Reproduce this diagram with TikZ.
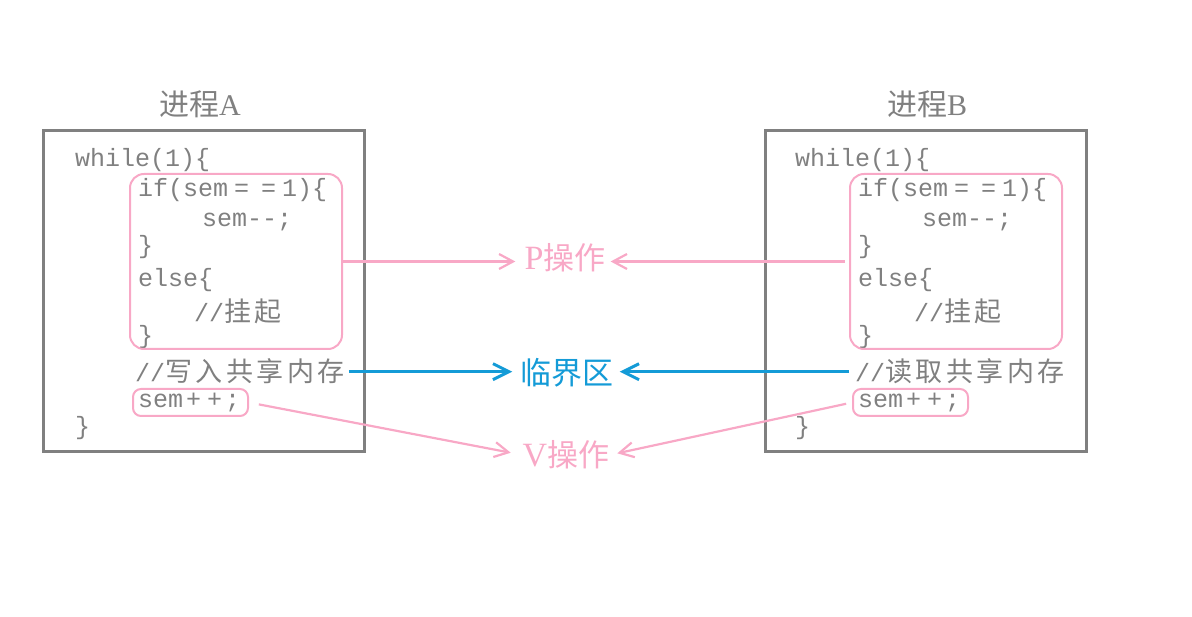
\documentclass[tikz,border=0pt]{standalone}
\usepackage{fontspec}
\setmainfont{Liberation Serif}
\newfontfamily\cjk{Noto Sans CJK SC}
\newfontfamily\cjkcode[LetterSpace=13]{Noto Sans CJK SC}
\newfontfamily\mono{Liberation Mono}
\usetikzlibrary{arrows.meta}
\definecolor{codegray}{RGB}{128,128,128}
\definecolor{pinkc}{RGB}{248,168,198}
\definecolor{bluec}{RGB}{20,155,215}
\newcommand\weq{\makebox[27pt]{=}}
\newcommand\wpl{\makebox[21pt]{+}}
\begin{document}
\begin{tikzpicture}[x=1pt,y=-1pt,
 code/.style={anchor=base west, inner sep=0pt, text=codegray, font=\mono\fontsize{25}{25}\selectfont},
 procbox/.style={draw=codegray, line width=3pt, inner sep=0pt, minimum width=321pt, minimum height=321pt},
 pinkbox/.style={draw=pinkc, line width=2pt, rounded corners=14pt, inner sep=0pt},
 ttl/.style={text=codegray, font=\fontsize{30}{30}\selectfont},
 lab/.style={font=\fontsize{31}{31}\selectfont, inner sep=0pt},
 parrow/.style={draw=pinkc, line width=2.2pt, -{Straight Barb[length=14pt,width=15pt]}},
 barrow/.style={draw=bluec, line width=3pt, -{Straight Barb[length=16pt,width=16pt]}},
]
\useasboundingbox (0,0) rectangle (1192,617);
% process boxes
\node[procbox] (boxA) at (203.5,291.5) {};
\node[procbox] (boxB) at (925.5,291.5) {};
\node[ttl] (tA) at (200,104) {{\cjk 进程}A};
\node[ttl] (tB) at (927,104) {{\cjk 进程}B};
% code
\foreach \s/\dx/\cm in {A/0/写入共享内存, B/720/读取共享内存}{
  \node[code] (wh\s) at (75+\dx,167) {while(1)\{};
  \node[code] (if\s) at (138+\dx,197) {if(sem\weq\weq1)\{};
  \node[code] (dec\s) at (202+\dx,227) {sem--;};
  \node[code] (cb\s) at (138+\dx,254) {\}};
  \node[code] (el\s) at (138+\dx,287) {else\{};
  \node[code] (hang\s) at (194+\dx,322) {//{\cjkcode\fontsize{27}{27}\selectfont 挂起}};
  \node[code] (cc\s) at (138+\dx,344) {\}};
  \node[code] (c\s) at (135+\dx,382) {//{\cjkcode\fontsize{27}{27}\selectfont \cm}};
  \node[code] (inc\s) at (138+\dx,408) {sem\wpl\wpl;};
  \node[code] (end\s) at (75+\dx,435) {\}};
  \node[pinkbox, minimum width=212pt, minimum height=175pt] (p\s) at (236+\dx,261.5) {};
  \node[pinkbox, rounded corners=8pt, minimum width=115pt, minimum height=27pt] (s\s) at (190.5+\dx,402.5) {};
}
% labels
\node[lab, text=pinkc] (P) at (565,258) {{\fontsize{34}{34}\selectfont P}{\cjk 操作}};
\node[lab, text=bluec] (K) at (567,373) {{\cjk 临界区}};
\node[lab, text=pinkc] (V) at (566,455) {{\fontsize{34}{34}\selectfont V}{\cjk 操作}};
% arrows
\draw[parrow, shorten >=9pt] (pA.east) -- (pA.east -| P.west);
\draw[parrow, shorten <=4pt, shorten >=5pt] (pB.west) -- (pB.west -| P.east);
\draw[barrow, shorten <=4pt, shorten >=8pt] (cA.east) -- (cA.east -| K.west);
\draw[barrow, shorten <=6pt, shorten >=6pt] (cB.west) -- (cB.west -| K.east);
\draw[parrow, shorten <=10pt, shorten >=12pt] (sA.east) -- (V.west);
\draw[parrow, shorten <=6pt, shorten >=8pt] (sB.west) -- (V.east);
\end{tikzpicture}
\end{document}
